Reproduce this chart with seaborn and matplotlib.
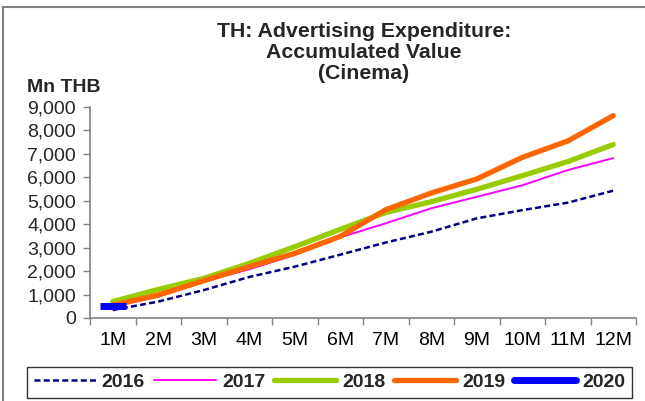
import matplotlib
matplotlib.use("Agg")
import matplotlib.pyplot as plt
from matplotlib.lines import Line2D
from matplotlib.ticker import FixedLocator, FuncFormatter
import numpy as np
import pandas as pd
import seaborn as sns

# Accumulated cinema advertising spend, Mn THB
months = ["1M", "2M", "3M", "4M", "5M", "6M", "7M", "8M", "9M", "10M", "11M", "12M"]
v2016 = [340, 700, 1190, 1750, 2190, 2700, 3220, 3680, 4250, 4600, 4920, 5430]
v2017 = [480, 910, 1550, 2080, 2690, 3440, 4040, 4680, 5170, 5660, 6310, 6820]
v2018 = [700, 1220, 1690, 2330, 3040, 3780, 4500, 4960, 5490, 6070, 6670, 7400]
v2019 = [550, 980, 1590, 2190, 2760, 3480, 4620, 5330, 5930, 6850, 7550, 8630]
v2020 = [520]
years = ["2016", "2017", "2018", "2019", "2020"]
y_ticks = [0, 1000, 2000, 3000, 4000, 5000, 6000, 7000, 8000, 9000]

series = {"2016": v2016, "2017": v2017, "2018": v2018, "2019": v2019, "2020": v2020}
styles = {
    "2016": dict(color="#000080", lw=1.8, ls=(0, (2.4, 1.3))),
    "2017": dict(color="#FF00FF", lw=1.4, ls="-"),
    "2018": dict(color="#99CC00", lw=3.8, ls="-"),
    "2019": dict(color="#FF6600", lw=3.8, ls="-"),
    "2020": dict(color="#0000FF", lw=5.0, ls="-"),
}

frames = []
for yr in years:
    vals = series[yr]
    frames.append(pd.DataFrame({"pos": np.arange(len(vals)), "value": vals, "year": yr}))
df = pd.concat(frames, ignore_index=True)

sns.set_style("white")
plt.rcParams["font.family"] = ["Liberation Sans", "DejaVu Sans"]

fig = plt.figure(figsize=(6.45, 4.01), dpi=100)
ax = fig.add_axes([90 / 645, 1 - 318 / 401, 546 / 645, 211 / 401])

for yr in years:
    st = styles[yr]
    sub = df[df["year"] == yr]
    if len(sub) > 1:
        sns.lineplot(data=sub, x="pos", y="value", ax=ax, color=st["color"],
                     linewidth=st["lw"], linestyle=st["ls"], legend=False)
    else:
        # a single month so far: shown as a short bold dash
        ax.plot(sub["pos"], sub["value"], linestyle="none", marker="_",
                markersize=19, markeredgewidth=st["lw"], color=st["color"])

ax.set_xlim(-0.5, 11.5)
ax.set_ylim(0, 9000)
ax.set_xlabel("")
ax.set_ylabel("")

# category boundaries carry the tick marks, labels sit between them
ax.xaxis.set_major_locator(FixedLocator(np.arange(-0.5, 12.0, 1.0)))
ax.xaxis.set_minor_locator(FixedLocator(np.arange(0, 12)))
ax.set_xticklabels([], minor=False)
ax.set_xticklabels(months, minor=True)
ax.tick_params(axis="x", which="major", length=5, width=1, color="#808080",
               direction="out", bottom=True)
ax.tick_params(axis="x", which="minor", length=0, pad=10, labelsize=14,
               labelcolor="black")

ax.yaxis.set_major_locator(FixedLocator(y_ticks))
ax.yaxis.set_major_formatter(FuncFormatter(lambda v, p: f"{int(v):,}"))
ax.tick_params(axis="y", length=5, width=1, color="#808080", direction="out",
               left=True, pad=5, labelsize=14)

for side in ["top", "right"]:
    ax.spines[side].set_visible(False)
for side in ["left", "bottom"]:
    ax.spines[side].set_color("#808080")
    ax.spines[side].set_linewidth(1.2)
ax.grid(False)

fig.text(364 / 645, 1 - 22 / 401,
         "TH: Advertising Expenditure:\nAccumulated Value\n(Cinema)",
         ha="center", va="top", fontsize=15.3, fontweight="bold", linespacing=1.12)
fig.text(27 / 645, 1 - 87 / 401, "Mn THB", ha="left", va="center",
         fontsize=14, fontweight="bold")

# outer chart frame
fig.add_artist(Line2D([3 / 645, 1.0], [1 - 7 / 401, 1 - 7 / 401],
                      transform=fig.transFigure, color="#808080", lw=1.5))
fig.add_artist(Line2D([3 / 645, 3 / 645], [0.0, 1 - 7 / 401],
                      transform=fig.transFigure, color="#808080", lw=1.5))

handles = [Line2D([], [], color=styles[yr]["color"], lw=styles[yr]["lw"],
                  ls=styles[yr]["ls"], solid_capstyle="round") for yr in years]
leg = fig.legend(handles, years, loc="lower left",
                 bbox_to_anchor=(27 / 645, 1 - 398 / 401, 605 / 645, 33 / 401),
                 mode="expand", ncol=5, frameon=True, fancybox=False,
                 handlelength=3.2, handletextpad=0.3, columnspacing=0.5,
                 borderpad=0.35, borderaxespad=0,
                 prop={"weight": "bold", "size": 14})
leg.get_frame().set_edgecolor("black")
leg.get_frame().set_linewidth(1.0)

fig.savefig("out.png", dpi=100)
